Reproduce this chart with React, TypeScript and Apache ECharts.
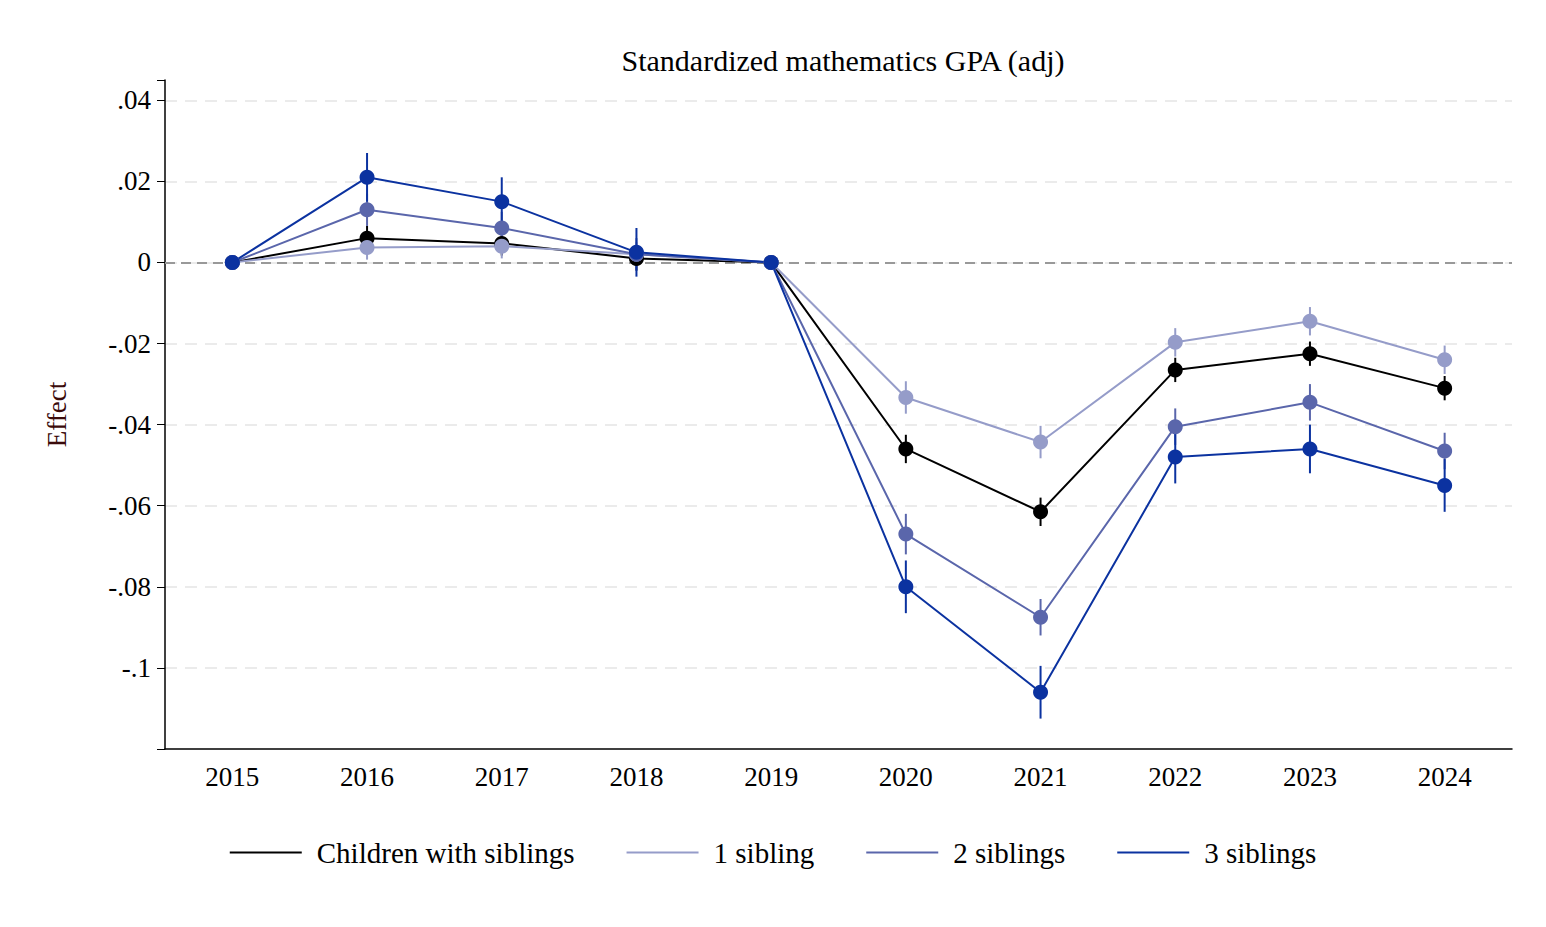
import React, { useEffect, useRef } from 'react';
import * as echarts from 'echarts';

const years = ['2015', '2016', '2017', '2018', '2019', '2020', '2021', '2022', '2023', '2024'];

const allKids = [0, 0.006, 0.0047, 0.001, 0, -0.046, -0.0615, -0.0265, -0.0225, -0.031];
const oneSib = [0, 0.0037, 0.004, 0.002, 0, -0.0333, -0.0443, -0.0197, -0.0145, -0.024];
const twoSib = [0, 0.013, 0.0085, 0.002, 0, -0.067, -0.0875, -0.0405, -0.0345, -0.0465];
const threeSib = [0, 0.021, 0.015, 0.0025, 0, -0.08, -0.106, -0.048, -0.046, -0.055];

const allKidsCi = [0, 0.003, 0.003, 0.003, 0, 0.0035, 0.0035, 0.003, 0.003, 0.003];
const oneSibCi = [0, 0.003, 0.003, 0.003, 0, 0.004, 0.004, 0.0035, 0.0035, 0.0035];
const twoSibCi = [0, 0.004, 0.004, 0.004, 0, 0.005, 0.0045, 0.0045, 0.0045, 0.0045];
const threeSibCi = [0, 0.006, 0.006, 0.006, 0, 0.0065, 0.0065, 0.0065, 0.006, 0.0065];

const groups = [
  { name: 'Children with siblings', data: allKids, ci: allKidsCi, color: '#000000' },
  { name: '1 sibling', data: oneSib, ci: oneSibCi, color: '#959cc9' },
  { name: '2 siblings', data: twoSib, ci: twoSibCi, color: '#5a66ab' },
  { name: '3 siblings', data: threeSib, ci: threeSibCi, color: '#0b32a0' },
];

const font = "'Liberation Serif', 'DejaVu Serif', serif";

const fmt = (v: number): string => {
  if (v < -0.115) return '';
  const r = Math.round(v * 100) / 100;
  if (Math.abs(r - v) > 1e-6) return '';
  if (r === 0) return '0';
  return String(r).replace('0.', '.');
};

const App: React.FC = () => {
  const chartRef = useRef<HTMLDivElement | null>(null);

  useEffect(() => {
    document.body.style.margin = '0';
    if (!chartRef.current) return;
    const chart = echarts.init(chartRef.current, undefined, { renderer: 'svg' });

    const series: any[] = [];
    groups.forEach((g) => {
      series.push({
        type: 'custom',
        name: g.name + ' ci',
        silent: true,
        data: g.data.map((v, i) => [i, v - g.ci[i], v + g.ci[i]]),
        renderItem: (params: any, api: any) => {
          const lo = api.coord([api.value(0), api.value(1)]);
          const hi = api.coord([api.value(0), api.value(2)]);
          return {
            type: 'line',
            shape: { x1: lo[0], y1: lo[1], x2: hi[0], y2: hi[1] },
            style: { stroke: g.color, lineWidth: 2 },
          };
        },
        z: 2,
      });
      series.push({
        type: 'line',
        name: g.name,
        data: g.data,
        symbol: 'circle',
        symbolSize: 15,
        lineStyle: { color: g.color, width: 2 },
        itemStyle: { color: g.color },
        z: 3,
      });
    });
    series[1].markLine = {
      silent: true,
      symbol: 'none',
      label: { show: false },
      lineStyle: { color: '#999999', type: [10, 6], width: 2 },
      data: [{ yAxis: 0 }],
      z: 1,
    };

    chart.setOption({
      animation: false,
      textStyle: { fontFamily: font },
      title: {
        text: 'Standardized mathematics GPA (adj)',
        left: 838,
        top: 40,
        textAlign: 'center',
        textStyle: { fontFamily: font, fontSize: 30, fontWeight: 'normal', color: '#000' },
      },
      legend: {
        bottom: 55,
        left: 'center',
        data: groups.map((g) => ({ name: g.name, icon: 'rect', itemStyle: { color: g.color } })),
        itemWidth: 72,
        itemHeight: 2,
        itemGap: 52,
        textStyle: { fontFamily: font, fontSize: 29, color: '#000', padding: [0, 0, 0, 10] },
      },
      grid: { left: 165, right: 34, top: 80, bottom: 178 },
      xAxis: {
        type: 'category',
        data: years,
        axisTick: { alignWithLabel: true, length: 8, lineStyle: { color: '#000' } },
        axisLine: { onZero: false, lineStyle: { color: '#000', width: 1.5 } },
        axisLabel: { fontFamily: font, fontSize: 27, color: '#000', margin: 14 },
      },
      yAxis: {
        type: 'value',
        min: -0.12,
        max: 0.045,
        interval: 0.02,
        name: 'Effect',
        nameLocation: 'middle',
        nameGap: 95,
        nameTextStyle: { fontFamily: font, fontSize: 27, color: '#3a0a0a' },
        axisLine: { show: true, lineStyle: { color: '#000', width: 1.5 } },
        axisTick: { show: true, length: 8, lineStyle: { color: '#000' } },
        axisLabel: { fontFamily: font, fontSize: 27, color: '#000', formatter: fmt, margin: 14 },
        splitLine: { showMinLine: false, showMaxLine: false, lineStyle: { color: '#ebebeb', type: [12, 8], width: 2 } },
      },
      series,
    });

    return () => {
      chart.dispose();
    };
  }, []);

  return <div ref={chartRef} style={{ width: '1546px', height: '927px' }} />;
};

export default App;
